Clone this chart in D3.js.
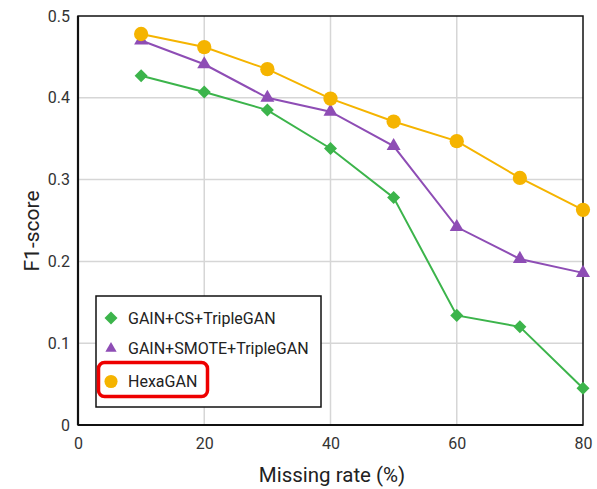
<!DOCTYPE html>
<html><head><meta charset="utf-8">
<script src="https://cdn.jsdelivr.net/npm/d3@7"></script>
<style>body{margin:0;background:#fff;} svg{display:block;font-family:Roboto, sans-serif;}</style>
</head><body>
<script>
const missingRates = [10, 20, 30, 40, 50, 60, 70, 80];
const gainCS = [0.427, 0.407, 0.385, 0.338, 0.278, 0.134, 0.120, 0.045];
const gainSMOTE = [0.470, 0.441, 0.400, 0.383, 0.341, 0.242, 0.203, 0.186];
const hexaGAN = [0.478, 0.462, 0.435, 0.399, 0.371, 0.347, 0.302, 0.263];
const seriesNames = ["GAIN+CS+TripleGAN", "GAIN+SMOTE+TripleGAN", "HexaGAN"];
const xTicks = [0, 20, 40, 60, 80];
const yTicks = [0, 0.1, 0.2, 0.3, 0.4, 0.5];

const W = 597, H = 489;
const m = {left: 78, right: 14, top: 16, bottom: 64};
const svg = d3.select("body").append("svg").attr("width", W).attr("height", H);
const x = d3.scaleLinear().domain([0, 80]).range([m.left, W - m.right]);
const y = d3.scaleLinear().domain([0, 0.5]).range([H - m.bottom + 0, m.top]);

// grid
svg.append("g").selectAll("line").data(xTicks.slice(1, -1)).join("line")
  .attr("x1", d => x(d)).attr("x2", d => x(d)).attr("y1", y(0)).attr("y2", y(0.5))
  .attr("stroke", "#d6d6d6").attr("stroke-width", 1.5);
svg.append("g").selectAll("line").data(yTicks.slice(1, -1)).join("line")
  .attr("x1", x(0)).attr("x2", x(80)).attr("y1", d => y(d)).attr("y2", d => y(d))
  .attr("stroke", "#d6d6d6").attr("stroke-width", 1.5);

// frame
svg.append("rect").attr("x", x(0)).attr("y", y(0.5)).attr("width", x(80) - x(0)).attr("height", y(0) - y(0.5))
  .attr("fill", "none").attr("stroke", "#111").attr("stroke-width", 1.5);
svg.append("line").attr("x1", x(0)).attr("x2", x(80)).attr("y1", y(0)).attr("y2", y(0)).attr("stroke", "#111").attr("stroke-width", 2.2);
svg.append("line").attr("x1", x(0)).attr("x2", x(0)).attr("y1", y(0)).attr("y2", y(0.5)).attr("stroke", "#111").attr("stroke-width", 2.2);

// axes
const xAxis = svg.append("g").attr("transform", `translate(0,${y(0)})`)
  .call(d3.axisBottom(x).tickValues(xTicks).tickSize(0).tickPadding(13).tickFormat(d3.format("d")));
const yAxis = svg.append("g").attr("transform", `translate(${x(0)},0)`)
  .call(d3.axisLeft(y).tickValues(yTicks).tickSize(0).tickPadding(8).tickFormat(d => d === 0 ? "0" : d3.format(".1f")(d)));
[xAxis, yAxis].forEach(a => {
  a.select(".domain").remove();
  a.selectAll("text").attr("font-size", 16).attr("fill", "#333").attr("font-family", "Roboto, sans-serif");
});

svg.append("text").attr("x", 332).attr("y", 482).attr("text-anchor", "middle")
  .attr("font-size", 20.5).attr("fill", "#222").text("Missing rate (%)");
svg.append("text").attr("transform", `translate(39,231) rotate(-90)`).attr("text-anchor", "middle")
  .attr("font-size", 21).attr("fill", "#222").text("F1-score");

const colors = ["#3cb44b", "#8e4db5", "#f5b400"];
const datasets = [gainCS, gainSMOTE, hexaGAN];
const shapes = [d3.symbolSquare, d3.symbolTriangle, d3.symbolCircle];
const sizes = [85, 85, 160];
const rot = k => (k === 0 ? " rotate(45)" : "");
const line = d3.line().x((d, i) => x(missingRates[i])).y(d => y(d));

datasets.forEach((ds, k) => {
  const g = svg.append("g");
  g.append("path").datum(ds).attr("d", line).attr("fill", "none").attr("stroke", colors[k]).attr("stroke-width", 2);
  g.selectAll("path.pt").data(ds).join("path").attr("class", "pt")
    .attr("transform", (d, i) => `translate(${x(missingRates[i])},${y(d)})` + rot(k))
    .attr("d", d3.symbol().type(shapes[k]).size(sizes[k])).attr("fill", colors[k]);
});

// legend
const lg = svg.append("g");
lg.append("rect").attr("x", 96).attr("y", 296).attr("width", 225).attr("height", 111)
  .attr("fill", "#fff").attr("stroke", "#111").attr("stroke-width", 1.5);
const ly = [318, 348.5, 381.5];
const lsizes = [85, 55, 135];
seriesNames.forEach((name, k) => {
  lg.append("path").attr("transform", `translate(111,${ly[k]})` + rot(k))
    .attr("d", d3.symbol().type(shapes[k]).size(lsizes[k])).attr("fill", colors[k]);
  lg.append("text").attr("x", 128).attr("y", ly[k]).attr("dy", "0.35em")
    .attr("font-size", 16).attr("fill", "#222").text(name);
});
lg.append("rect").attr("x", 98.5).attr("y", 362.5).attr("width", 109).attr("height", 34).attr("rx", 6)
  .attr("fill", "none").attr("stroke", "#ee0000").attr("stroke-width", 3.5);
</script>
</body></html>
